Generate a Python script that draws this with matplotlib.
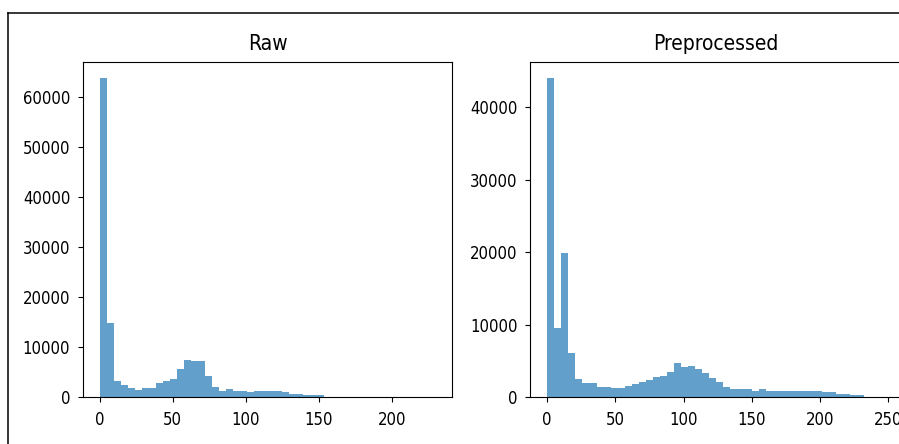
import numpy as np
import matplotlib
matplotlib.use("Agg")
import matplotlib.pyplot as plt
from matplotlib.lines import Line2D

# ---- data ----
n_bins = 48
raw_max = 230
pre_max = 248

raw_counts = [63700, 14900, 3300, 2460, 1800, 1520, 1800, 1850, 2800, 3320,
              3600, 5730, 7530, 7200, 7200, 4200, 2130, 1200, 1600, 1260,
              1260, 1000, 1260, 1260, 1260, 1260, 1000, 730, 730, 400,
              400, 400, 60, 40, 25, 15, 10, 8, 5, 4,
              3, 2, 2, 1, 1, 1, 1, 1]

pre_counts = [44000, 9550, 19900, 6060, 2480, 1930, 1930, 1460, 1460, 1240,
              1240, 1515, 1830, 2110, 2380, 2750, 2980, 3530, 4770, 4130,
              4360, 3900, 3300, 2700, 2150, 1460, 1100, 1100, 1100, 870,
              1100, 850, 850, 850, 850, 850, 850, 850, 850, 690,
              690, 500, 500, 280, 280, 40, 10, 3]

titles = ["Raw", "Preprocessed"]

raw_edges = np.linspace(0, raw_max, n_bins + 1)
pre_edges = np.linspace(0, pre_max, n_bins + 1)

W, H = 899, 444
fig = plt.figure(figsize=(W / 100, H / 100), dpi=100)

def px_axes(x0, y_top, w, h):
    return fig.add_axes([x0 / W, (H - y_top - h) / H, w / W, h / H])

ax1 = px_axes(82.7, 62.0, 369.6, 335.3)
ax2 = px_axes(530.3, 62.0, 372.0, 335.3)

color = "#1f77b4"
ax1.hist(raw_edges[:-1], bins=raw_edges, weights=raw_counts, color=color, alpha=0.7)
ax2.hist(pre_edges[:-1], bins=pre_edges, weights=pre_counts, color=color, alpha=0.7)

for ax, t in zip([ax1, ax2], titles):
    ax.set_title(t, fontsize=15, fontstretch="condensed", pad=9)
    ax.tick_params(axis="both", labelsize=12)
    ax.tick_params(axis="x", pad=6.5)
    ax.tick_params(axis="y", pad=5.5)
    for lab in ax.get_xticklabels() + ax.get_yticklabels():
        lab.set_fontstretch("condensed")

# outer frame of the screenshot
fig.add_artist(Line2D([8 / W, 1.0], [1 - 13.3 / H, 1 - 13.3 / H], color="black",
                      linewidth=1.1, transform=fig.transFigure))
fig.add_artist(Line2D([8 / W, 8 / W], [0.0, 1 - 13.3 / H], color="black",
                      linewidth=1.1, transform=fig.transFigure))

fig.savefig("out.png", dpi=100)
